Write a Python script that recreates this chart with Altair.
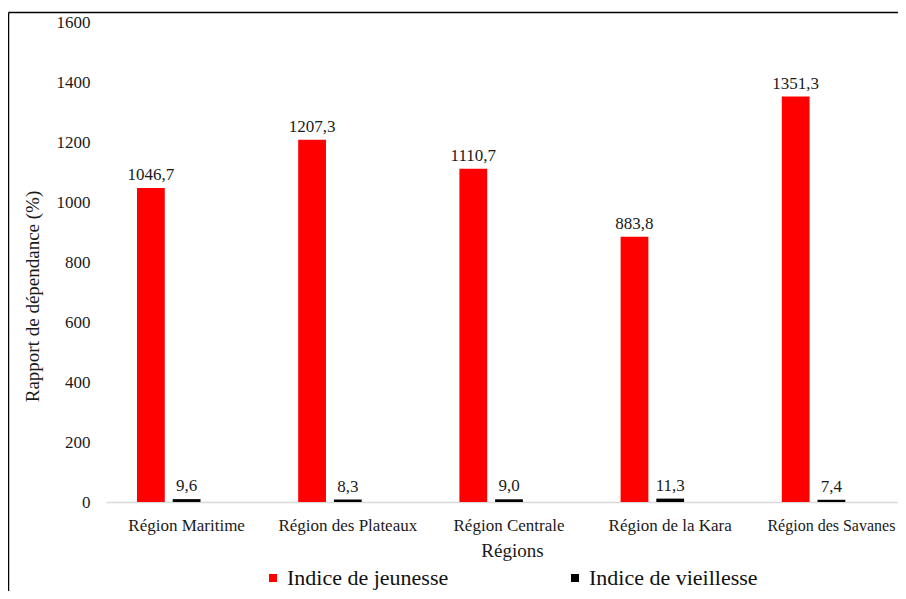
import altair as alt
import pandas as pd

regions = ["Région Maritime", "Région des Plateaux", "Région Centrale",
           "Région de la Kara", "Région des Savanes"]
jeunesse = [1046.7, 1207.3, 1110.7, 883.8, 1351.3]
vieillesse = [9.6, 8.3, 9.0, 11.3, 7.4]
series = ["Indice de jeunesse", "Indice de vieillesse"]
colors = ["#ff0000", "#000000"]
y_ticks = [0, 200, 400, 600, 800, 1000, 1200, 1400, 1600]

rows = []
for r, j, v in zip(regions, jeunesse, vieillesse):
    rows.append({"region": r, "serie": series[0], "value": j})
    rows.append({"region": r, "serie": series[1], "value": v})
df = pd.DataFrame(rows)
df["label"] = df["value"].map(lambda x: f"{x:.1f}".replace(".", ","))

FONT = "Liberation Serif"
W, H = 792, 480      # visible plot area
FULL = 806           # full category axis length; its right end is cropped

x_enc = alt.X(
    "region:N", sort=regions, title="Régions",
    scale=alt.Scale(paddingInner=0, paddingOuter=0, range=[0, FULL]),
    axis=alt.Axis(labelAngle=0, ticks=False, domainColor="#d9d9d9", domainWidth=1.5,
                  labelFont=FONT,
                  labelFontSize={"condition": {"test": f"datum.value === '{regions[-1]}'",
                                               "value": 16}, "value": 17},
                  labelColor="#1a1a1a", labelPadding=15, labelLimit=300,
                  titleFont=FONT, titleFontSize=19, titleFontWeight="normal",
                  titleColor="#1a1a1a", titlePadding=8, titleX=406),
)
xo_enc = alt.XOffset(
    "serie:N",
    scale=alt.Scale(domain=series + ["_"], paddingInner=0.222, paddingOuter=0.868),
)
y_enc = alt.Y(
    "value:Q", title="Rapport de dépendance (%)",
    scale=alt.Scale(domain=[0, 1600], nice=False),
    axis=alt.Axis(values=y_ticks, format="d", grid=False, ticks=False, domain=False,
                  labelFont=FONT, labelFontSize=17, labelColor="#1a1a1a", labelPadding=16,
                  titleFont=FONT, titleFontSize=19, titleFontWeight="normal",
                  titleColor="#1a1a1a", titleX=-74, titleY=274, titleAngle=270,
                  titleAlign="center", titleBaseline="middle"),
)

base = alt.Chart(df)

bars = base.mark_bar().encode(
    x=x_enc, xOffset=xo_enc, y=y_enc,
    color=alt.Color(
        "serie:N",
        scale=alt.Scale(domain=series, range=colors),
        legend=alt.Legend(orient="none", legendX=156, legendY=545, direction="horizontal",
                          title=None, symbolType="square", symbolSize=64,
                          symbolStrokeWidth=0, labelFont=FONT, labelFontSize=22,
                          labelColor="#111111", labelLimit=400, columnPadding=115,
                          labelOffset=3, padding=0),
    ),
)

labels = base.mark_text(font=FONT, fontSize=17, color="#1a1a1a",
                        baseline="alphabetic", dy=-8).encode(
    x=alt.X("region:N", sort=regions), xOffset=alt.XOffset("serie:N"),
    y=alt.Y("value:Q"), text="label:N",
)

border_left = alt.Chart(pd.DataFrame({"a": [0]})).mark_rule(
    color="#000000", strokeWidth=1.5).encode(
    x=alt.value(-97.5), y=alt.value(-9.5), y2=alt.value(H + 140))
border_top = alt.Chart(pd.DataFrame({"a": [0]})).mark_rule(
    color="#000000", strokeWidth=1.5).encode(
    x=alt.value(-97.5), x2=alt.value(FULL + 60), y=alt.value(-9.5))

chart = alt.layer(bars, labels, border_left, border_top).properties(
    width=W, height=H,
    background="white",
    autosize=alt.AutoSizeParams(type="none"),
    padding={"left": 98, "top": 14, "right": 0, "bottom": 89},
).configure_view(stroke=None).configure_legend(labelFont=FONT)

chart.save("out.html", embed_options={"renderer": "svg", "actions": False})
